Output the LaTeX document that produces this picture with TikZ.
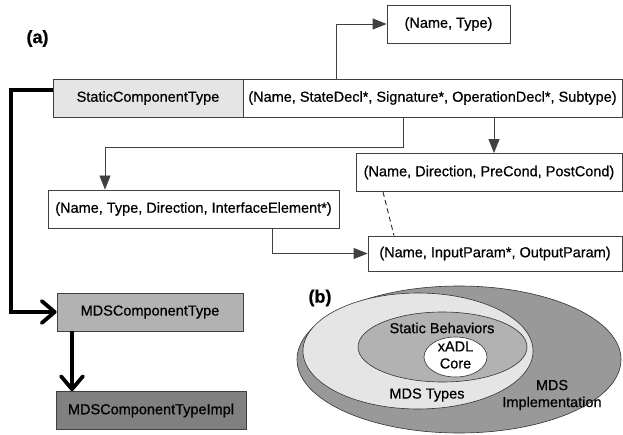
\documentclass[tikz,border=0pt]{standalone}
\usepackage{fontspec}
\setmainfont{Liberation Sans}[FakeBold=0.6]
\usetikzlibrary{arrows.meta}

\begin{document}
\begin{tikzpicture}[x=1pt,y=-1pt,
    font=\fontsize{14.5}{17}\selectfont,
    box/.style={draw=black!75, line width=0.8pt, minimum height=38pt, inner sep=0pt},
    link/.style={draw=black!75, line width=0.8pt, -{Triangle[length=14pt,width=11pt]}},
    thickarrow/.style={line width=3.8pt, -{Straight Barb[length=13pt,width=22pt,round]}},
    oval/.style={draw=black!80, line width=0.6pt}]
    \useasboundingbox (0,0) rectangle (623,435);

    % Labels
    \node[font=\fontsize{18}{20}\selectfont\bfseries] (lbla) at (37.5,38.5) {(a)};
    \node[font=\fontsize{18}{20}\selectfont\bfseries] (lblb) at (320,298) {(b)};

    % Boxes
    \node[box, fill=black!10, minimum width=190pt] (sct) at (148,98) {StaticComponentType};
    \node[box, minimum width=379pt] (decl) at (432.5,98) {(Name, StateDecl*, Signature*, OperationDecl*, Subtype)};
    \node[box, minimum width=123pt] (state) at (448.5,24) {(Name, Type)};
    \node[box, minimum width=291pt] (iface) at (193.5,209) {(Name, Type, Direction, InterfaceElement*)};
    \node[box, minimum width=266pt] (oper) at (489,172.5) {(Name, Direction, PreCond, PostCond)};
    \node[box, minimum width=254pt, minimum height=35pt] (param) at (495,253.5) {(Name, InputParam*, OutputParam)};
    \node[box, fill=black!30, minimum width=186pt] (mds) at (150,312) {MDSComponentType};
    \node[box, fill=black!50, minimum width=190pt] (impl) at (151,410.5) {MDSComponentTypeImpl};

    % Connectors
    \draw[link] (decl.north -| 336,0) |- (state.west);
    \draw[link] (decl.south -| 403,0) -- (403,147) -| (iface.north -| 105,0);
    \draw[link] (decl.south -| 494,0) -- (oper.north -| 494,0);
    \draw[link] (iface.south -| 272,0) |- (param.west);
    \draw[black!85, line width=0.9pt, dash pattern=on 5pt off 3.5pt] (oper.south -| 383,0) -- (param.north -| 394,0);

    % Thick arrows
    \draw[thickarrow] ([yshift=8pt]sct.west) -| (11,250) |- (mds.west);
    \draw[thickarrow] (mds.south -| 72,0) -- (impl.north -| 72,0);

    % Layers
    \fill[black!40] (459,359.5) ellipse [x radius=162, y radius=73.5];
    \draw[oval] (459,359.5) ellipse [x radius=162, y radius=73.5];
    \draw[oval, fill=black!10] (418,351) ellipse [x radius=115, y radius=58];
    \draw[oval, fill=black!30] (442.5,347) ellipse [x radius=84.5, y radius=35];
    \draw[oval, fill=white] (455.5,357) ellipse [x radius=31.5, y radius=20];

    \node (static) at (442,328) {Static Behaviors};
    \node[align=center] (core) at (455.5,355) {xADL\\Core};
    \node (types) at (427,395) {MDS Types};
    \node[align=center] (implbl) at (552,395) {MDS\\Implementation};
\end{tikzpicture}
\end{document}
